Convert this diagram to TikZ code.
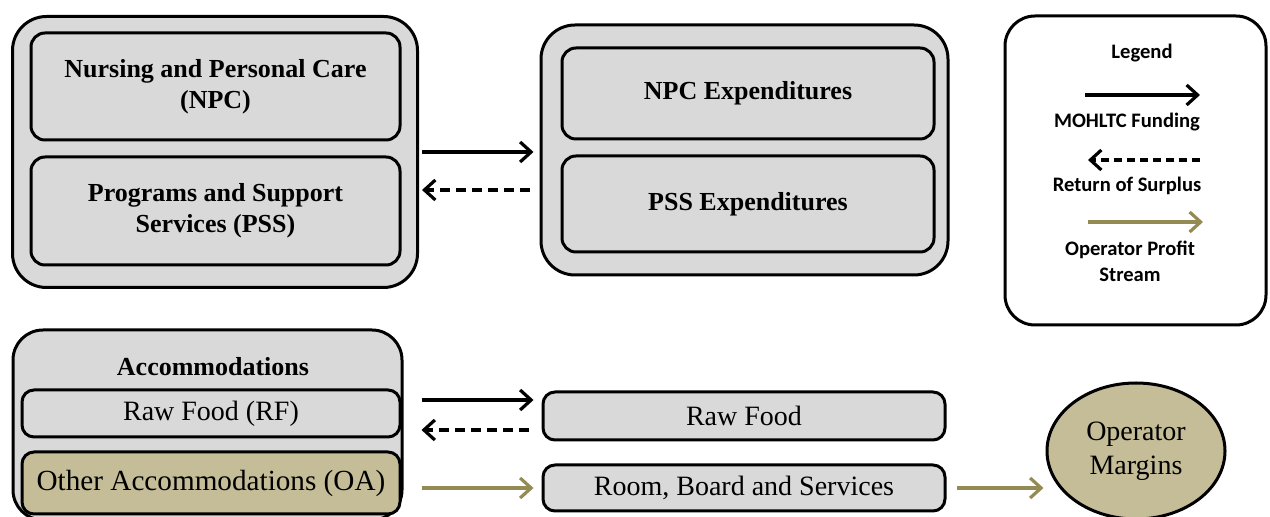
\documentclass[tikz,border=0pt]{standalone}
\usepackage{fontspec}
\setmainfont{Liberation Serif}
\newfontfamily\legfont{Carlito}
\usetikzlibrary{arrows.meta,shapes.geometric}
\definecolor{boxgray}{HTML}{D9D9D9}
\definecolor{tanfill}{HTML}{C4BD97}
\definecolor{olivearr}{HTML}{948A54}
\begin{document}
\begin{tikzpicture}[x=0.5pt,y=-0.5pt,
  outerbox/.style={draw, line width=1.5pt, fill=boxgray, rounded corners=17pt, inner sep=0pt},
  innerbox/.style={draw, line width=1.5pt, fill=boxgray, rounded corners=7pt, inner sep=0pt,
    align=center, font=\fontsize{13}{15.5}\selectfont\bfseries},
  flatbox/.style={draw, line width=1.5pt, fill=boxgray, rounded corners=6pt, inner sep=0pt,
    align=center, font=\fontsize{14}{16}\selectfont},
  fund/.style={line width=1.6pt, -{Straight Barb[length=5.5pt,width=10pt]}},
  ret/.style={line width=1.6pt, dash pattern=on 5pt off 3pt, -{Straight Barb[length=5.5pt,width=10pt]}},
  profit/.style={line width=1.6pt, draw=olivearr, -{Straight Barb[length=5.5pt,width=10pt]}},
  legtext/.style={font=\legfont\fontsize{10.3}{13}\selectfont\bfseries, align=center, inner sep=0pt},
]
\useasboundingbox (0,0) rectangle (1270,517);

% top-left group
\node[outerbox, minimum width=202.5pt, minimum height=135.5pt] (o1) at (215,152) {};
\node[innerbox, minimum width=184.5pt, minimum height=53.5pt] (npc) at (215.5,86.5)
  {Nursing and Personal Care\\(NPC)};
\node[innerbox, minimum width=184.5pt, minimum height=54pt] (pss) at (215.5,211)
  {Programs and Support\\Services (PSS)};

% top-middle group
\node[outerbox, minimum width=203.5pt, minimum height=125pt] (o2) at (744.5,150) {};
\node[innerbox, minimum width=186pt, minimum height=45.5pt] (npce) at (748,93.5) {NPC Expenditures};
\node[innerbox, minimum width=186pt, minimum height=48pt] (psse) at (748,204) {PSS Expenditures};

% arrows top
\coordinate (ta) at (o1.east);
\coordinate (tb) at ([yshift=-19pt]o1.east);
\draw[fund, shorten <=1.5pt, shorten >=3pt] (ta) -- (ta -| o2.west);
\draw[ret, shorten <=5pt, shorten >=1.5pt] (tb -| o2.west) -- (tb);

% legend
\node[draw, line width=1.5pt, fill=white, rounded corners=15pt, minimum width=130.5pt,
  minimum height=154.5pt] (leg) at (1135.5,170.5) {};
\node[legtext] (legt) at (1142,53) {Legend};
\coordinate (la1) at (1085,95);
\coordinate (la2) at (1200,95);
\draw[fund] (la1) -- (la2);
\node[legtext] (legf) at (1127,122) {MOHLTC Funding};
\coordinate (lb1) at (1200,160);
\coordinate (lb2) at (1088,160);
\draw[ret, dash pattern=on 4pt off 2.5pt] (lb1) -- (lb2);
\node[legtext] (legr) at (1127,186) {Return of Surplus};
\coordinate (lc1) at (1088,222);
\coordinate (lc2) at (1203,222);
\draw[profit] (lc1) -- (lc2);
\node[legtext] (legp) at (1130,261) {Operator Profit\\Stream};

% bottom-left group
\node[outerbox, rounded corners=15pt, minimum width=194.5pt, minimum height=95pt] (acc) at (207.5,425) {};
\node[font=\fontsize{13}{15}\selectfont\bfseries, inner sep=0pt] (acct) at (213,367) {Accommodations};
\node[flatbox, minimum width=189pt, minimum height=23.5pt] (rf) at (211,413.5) {Raw Food (RF)};
\node[flatbox, fill=tanfill, minimum width=189pt, minimum height=31pt,
  font=\fontsize{14.6}{16}\selectfont] (oa) at (211,483)
  {Other Accommodations (OA)};

% bottom-middle
\node[flatbox, minimum width=201pt, minimum height=24pt] (rawf) at (744,416) {Raw Food};
\node[flatbox, minimum width=201pt, minimum height=23pt] (room) at (744,488) {Room, Board and Services};

% ellipse
\node[ellipse, draw, line width=1.5pt, fill=tanfill, minimum width=89pt, minimum height=68pt,
  inner sep=0pt, align=center, font=\fontsize{14}{17}\selectfont] (marg) at (1136,451)
  {Operator\\Margins};

% bottom arrows
\coordinate (ba) at ([yshift=6.75pt]rf.east);
\coordinate (bb) at ([yshift=-8.25pt]rf.east);
\draw[fund, shorten <=10pt, shorten >=4pt] (ba) -- (ba -| rawf.west);
\draw[ret, shorten <=6.5pt, shorten >=10pt] (bb -| rawf.west) -- (bb);
\draw[profit, shorten <=10pt, shorten >=4pt] (oa.east |- room.west) -- (room.west);
\draw[profit, shorten <=5pt, shorten >=1pt] (room.east) -- (room.east -| marg.west);
\end{tikzpicture}
\end{document}
